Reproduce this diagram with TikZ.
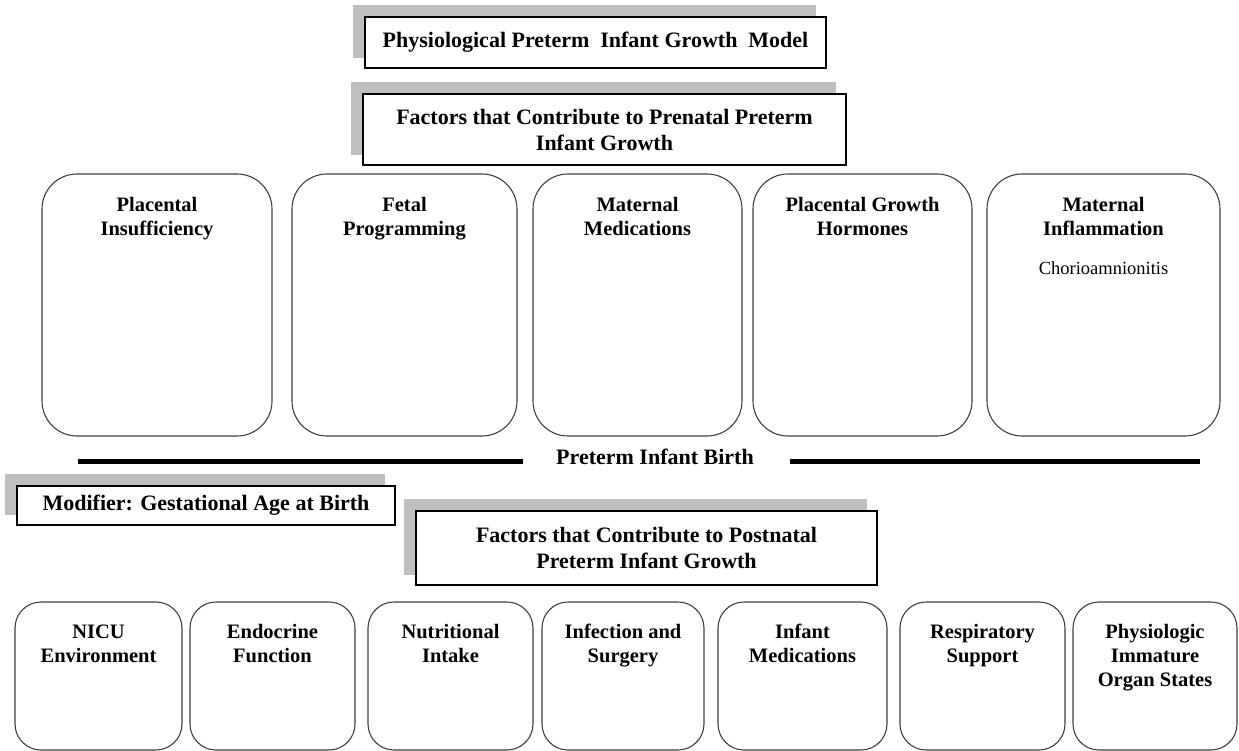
\documentclass[tikz,border=0pt]{standalone}
\usepackage{fontspec}
\setmainfont{Liberation Serif}
\usetikzlibrary{backgrounds}
\newcommand\hdrfont{\fontsize{22}{26}\selectfont\bfseries}
\newcommand\boxfont{\fontsize{20.5}{24}\selectfont\bfseries}
\newcommand\smallfont{\fontsize{18.5}{21}\selectfont}
\definecolor{shadowgray}{HTML}{BFBFBF}
\tikzset{
  hdr/.style={draw=black, fill=white, line width=1.1pt, font=\hdrfont, align=center, inner sep=0pt},
  rbox/.style={draw=black!75, line width=1.1pt, fill=white, inner sep=0pt},
  blbl/.style={font=\boxfont, align=center, anchor=base, inner sep=0pt},
  shadowfill/.style={fill=shadowgray},
  birthline/.style={line width=5pt}
}
\begin{document}
\begin{tikzpicture}[x=1pt, y=-1pt]
\useasboundingbox (0,0) rectangle (1239,751);
% header boxes
\node[hdr, minimum width=461pt, minimum height=51pt] (title) at (595.5,42.5) {Physiological Preterm\ \ Infant Growth\ \ Model};
\node[hdr, minimum width=483pt, minimum height=71pt] (pre) at (604.5,129.5) {Factors that Contribute to Prenatal Preterm\\Infant Growth};
\node[hdr, minimum width=378pt, minimum height=39pt] (mod) at (206,505.5) {Modifier: Gestational Age at Birth};
\node[hdr, minimum width=461pt, minimum height=74pt] (post) at (646.5,548) {Factors that Contribute to Postnatal\\Preterm Infant Growth};
\begin{scope}[on background layer]
\foreach \n in {title,pre,mod,post}{
  \fill[shadowfill] ([shift={(-11,-11)}]\n.south west) rectangle ([shift={(-11,-11)}]\n.north east);
}
\end{scope}
% prenatal boxes
\begin{scope}[rbox/.append style={rounded corners=35pt, minimum height=262pt}]
\node[rbox, minimum width=230pt] (pa) at (157,305) {};
\node[rbox, minimum width=225pt] (pb) at (404.5,305) {};
\node[rbox, minimum width=209pt] (pc) at (637.5,305) {};
\node[rbox, minimum width=219pt] (pd) at (862.5,305) {};
\node[rbox, minimum width=233pt] (pe) at (1103.5,305) {};
\end{scope}
\node[blbl] (pat) at ([yshift=-62pt]pa.north) {Placental\\Insufficiency};
\node[blbl] (pbt) at ([yshift=-62pt]pb.north) {Fetal\\Programming};
\node[blbl] (pct) at ([yshift=-62pt]pc.north) {Maternal\\Medications};
\node[blbl] (pdt) at ([yshift=-62pt]pd.north) {Placental Growth\\Hormones};
\node[blbl] (pet) at ([yshift=-62pt]pe.north) {Maternal\\Inflammation};
\node[font=\smallfont, anchor=base, inner sep=0pt] (pes) at ([yshift=-101pt]pe.north) {Chorioamnionitis};
% birth line
\node[font=\hdrfont, inner sep=0pt] (birth) at (655,457) {Preterm Infant Birth};
\coordinate (la) at (78,461);
\coordinate (lb) at (523,461);
\coordinate (lc) at (790,461);
\coordinate (ld) at (1200,461);
\draw[birthline] (la) -- (lb);
\draw[birthline] (lc) -- (ld);
% postnatal boxes
\begin{scope}[rbox/.append style={rounded corners=26pt, minimum height=148pt}]
\node[rbox, minimum width=167pt] (qa) at (98.5,676) {};
\node[rbox, minimum width=165pt] (qb) at (272.5,676) {};
\node[rbox, minimum width=165pt] (qc) at (450.5,676) {};
\node[rbox, minimum width=162pt] (qd) at (623,676) {};
\node[rbox, minimum width=169pt] (qe) at (802.5,676) {};
\node[rbox, minimum width=165pt] (qf) at (982.5,676) {};
\node[rbox, minimum width=164pt] (qg) at (1155,676) {};
\end{scope}
\node[blbl] (qat) at ([yshift=-61pt]qa.north) {NICU\\Environment};
\node[blbl] (qbt) at ([yshift=-61pt]qb.north) {Endocrine\\Function};
\node[blbl] (qct) at ([yshift=-61pt]qc.north) {Nutritional\\Intake};
\node[blbl] (qdt) at ([yshift=-61pt]qd.north) {Infection and\\Surgery};
\node[blbl] (qet) at ([yshift=-61pt]qe.north) {Infant\\Medications};
\node[blbl] (qft) at ([yshift=-61pt]qf.north) {Respiratory\\Support};
\node[blbl] (qgt) at ([yshift=-85pt]qg.north) {Physiologic\\Immature\\Organ States};
\end{tikzpicture}
\end{document}
